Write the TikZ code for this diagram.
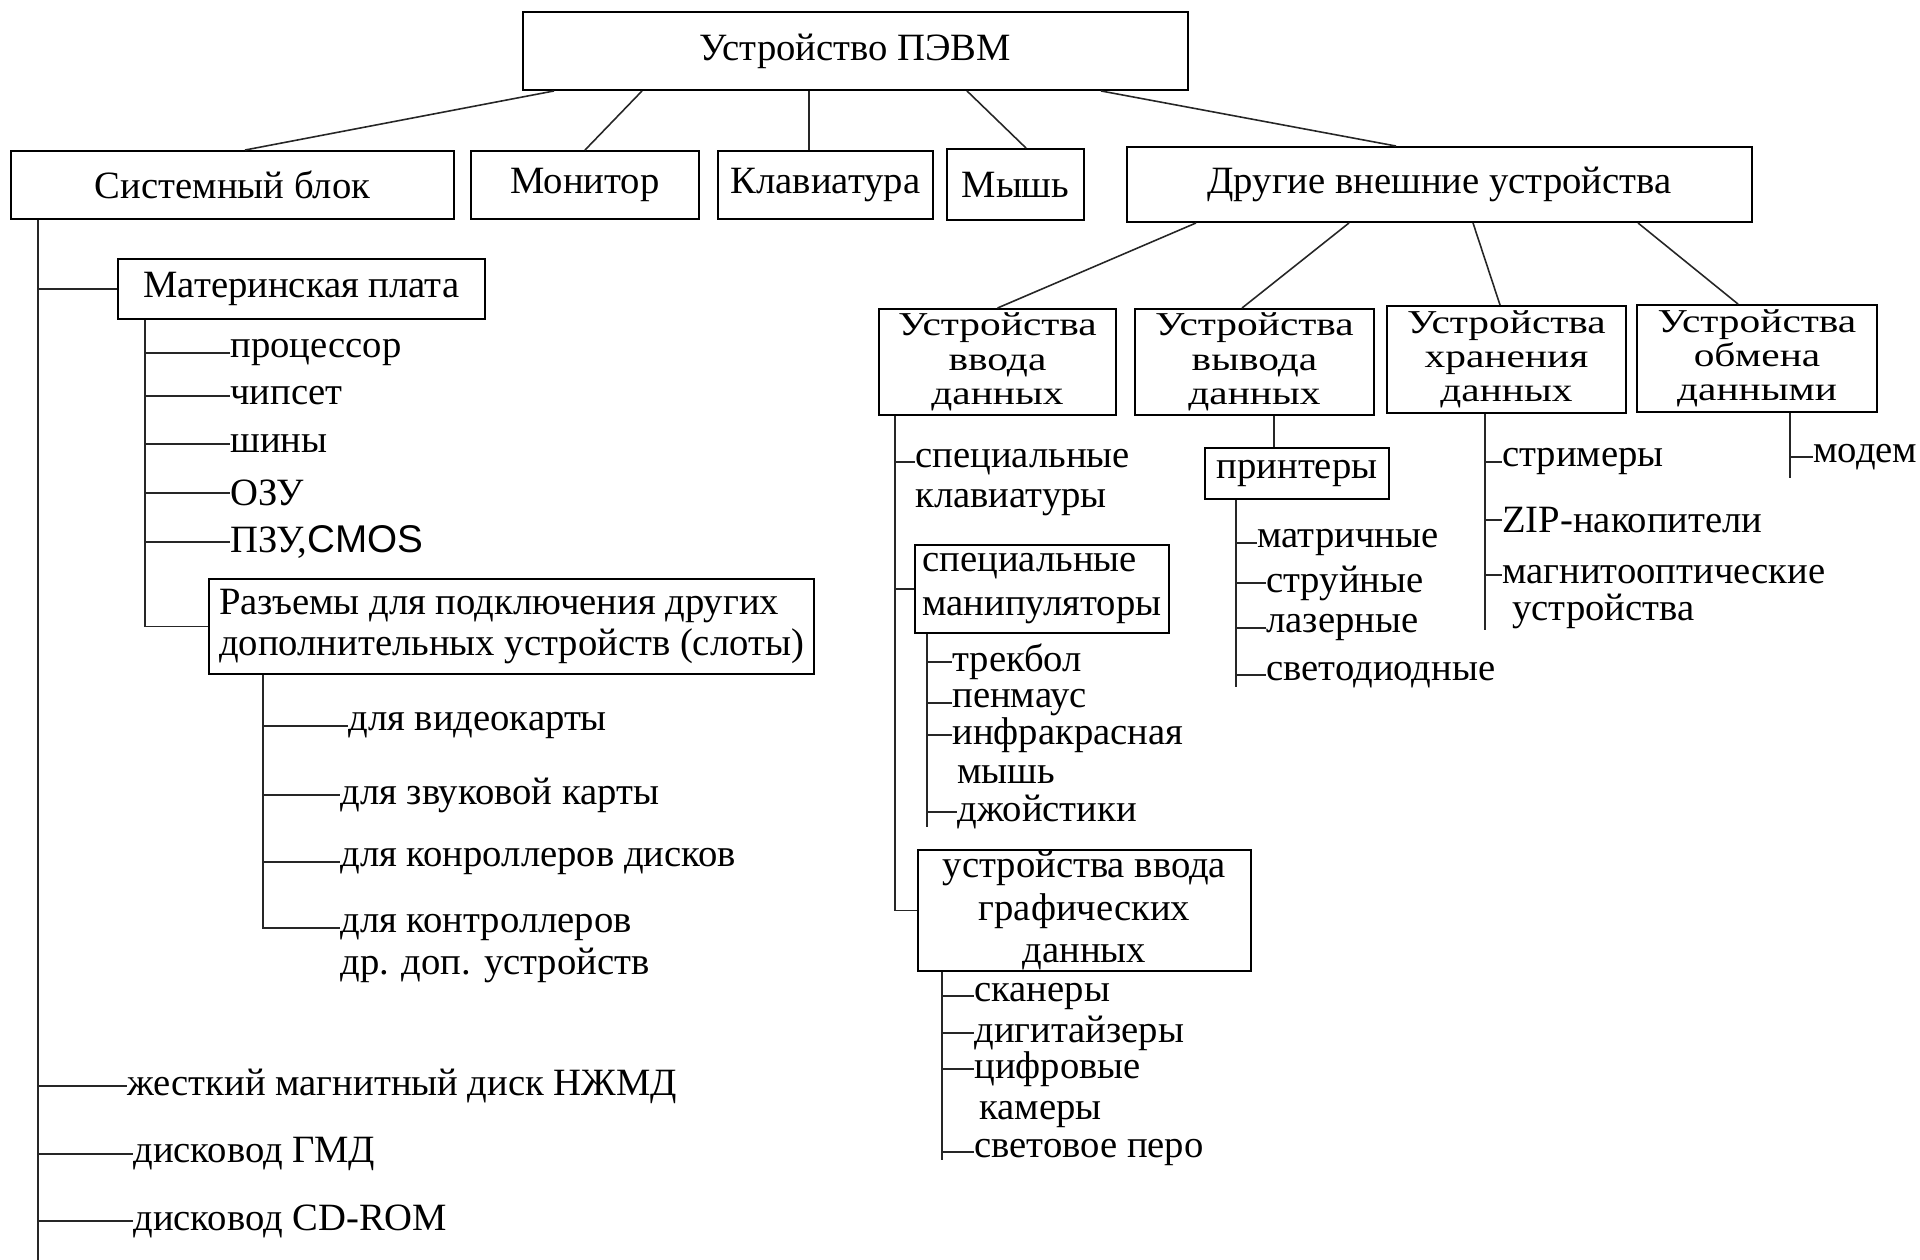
\documentclass[tikz,border=0pt]{standalone}
\usepackage{fontspec}
\setmainfont{Liberation Serif}
\newfontfamily\sansCMOS{Liberation Sans}
\newfontfamily\widefont[FakeStretch=1.24]{Liberation Serif}
\tikzset{
  blk/.style={draw, line width=1.1pt, inner sep=0pt, align=center, font=\fontsize{22}{18}\selectfont},
  grp/.style={blk, font=\fontsize{19}{19.5}\widefont},
  sz/.style 2 args={minimum width=#1*0.02cm, minimum height=#2*0.02cm},
  itm/.style={anchor=west, inner sep=0pt, font=\fontsize{22}{26}\selectfont},
  lnk/.style={line width=0.9pt, black!85},
}
\begin{document}
\begin{tikzpicture}[x=0.02cm, y=-0.02cm]
  \useasboundingbox (0,0) rectangle (1920,1260);
  % top row
  \node[blk, sz={665}{78}] (pc) at (855.5,51) {Устройство ПЭВМ};
  \node[blk, sz={443}{68}] (sys) at (232.5,185) {Системный блок};
  \node[blk, sz={228}{68}] (mon) at (585,185) {Монитор};
  \node[blk, sz={215}{68}] (kbd) at (825.5,185) {Клавиатура};
  \node[blk, sz={137}{71}] (mouse) at (1015.5,184.5) {Мышь};
  \node[blk, sz={625}{75}] (ext) at (1439.5,184.5) {Другие внешние устройства};
  \draw[lnk] (pc.south -| 554,0) -- (sys.north -| 245,0);
  \draw[lnk] (pc.south -| 642,0) -- (mon.north);
  \draw[lnk] (pc.south -| 809,0) -- (kbd.north -| 809,0);
  \draw[lnk] (pc.south -| 967,0) -- (mouse.north -| 1026,0);
  \draw[lnk] (pc.south -| 1101,0) -- (ext.north -| 1396,0);
  % system unit
  \coordinate (sysx) at (38,1260);
  \node[blk, sz={367}{60}] (mb) at (301.5,289) {Материнская плата};
  \node[blk, sz={605}{95}, align=left, font=\fontsize{22}{23.5}\selectfont] (slots) at (511.5,626.5)
    {Разъемы для подключения других\\дополнительных устройств (слоты)};
  \node[itm] (hdd) at (127,1086) {жесткий магнитный диск НЖМД};
  \node[itm] (fdd) at (133,1154) {дисковод ГМД};
  \node[itm] (cdr) at (133,1221) {дисковод CD-ROM};
  \draw[lnk] (sys.south -| sysx) -- (sysx);
  \draw[lnk] (mb.west -| sysx) -- (mb.west);
  \draw[lnk] (hdd.west -| sysx) -- (hdd.west);
  \draw[lnk] (fdd.west -| sysx) -- (fdd.west);
  \draw[lnk] (cdr.west -| sysx) -- (cdr.west);
  % motherboard
  \coordinate (mbx) at (145,0);
  \node[itm] (cpu) at (230,353) {процессор};
  \node[itm] (chip) at (230,396) {чипсет};
  \node[itm] (bus) at (230,444) {шины};
  \node[itm] (ram) at (230,493) {ОЗУ};
  \node[itm] (rom) at (230,542) {ПЗУ,{\sansCMOS CMOS}};
  \draw[lnk] (mb.south -| mbx) -- (slots.west -| mbx) -- (slots.west);
  \draw[lnk] (cpu.west -| mbx) -- (cpu.west);
  \draw[lnk] (chip.west -| mbx) -- (chip.west);
  \draw[lnk] (bus.west -| mbx) -- (bus.west);
  \draw[lnk] (ram.west -| mbx) -- (ram.west);
  \draw[lnk] (rom.west -| mbx) -- (rom.west);
  % slots
  \coordinate (slx) at (263,0);
  \node[itm] (vid) at (348,726) {для видеокарты};
  \node[itm] (snd) at (340,795) {для звуковой карты};
  \node[itm] (dsk) at (340,862) {для конроллеров дисков};
  \node[itm] (ctl) at (340,928) {для контроллеров};
  \node[itm] (ctlb) at (340,965) {др. доп. устройств};
  \draw[lnk] (slots.south -| slx) -- (ctl.west -| slx) -- (ctl.west);
  \draw[lnk] (vid.west -| slx) -- (vid.west);
  \draw[lnk] (snd.west -| slx) -- (snd.west);
  \draw[lnk] (dsk.west -| slx) -- (dsk.west);
  % other devices
  \node[grp, sz={237}{106}] (inp) at (997.5,362) {Устройства\\ввода\\данных};
  \node[grp, sz={239}{106}] (outp) at (1254.5,362) {Устройства\\вывода\\данных};
  \node[grp, sz={239}{107}] (stor) at (1506.5,359.5) {Устройства\\хранения\\данных};
  \node[grp, sz={240}{107}] (xchg) at (1757,358.5) {Устройства\\обмена\\данными};
  \draw[lnk] (ext.south -| 1196,0) -- (inp.north);
  \draw[lnk] (ext.south -| 1349,0) -- (outp.north -| 1242,0);
  \draw[lnk] (ext.south -| 1473,0) -- (stor.north -| 1500,0);
  \draw[lnk] (ext.south -| 1638,0) -- (xchg.north -| 1738,0);
  % input devices
  \coordinate (inx) at (895,0);
  \node[itm] (skb) at (915,462) {специальные};
  \node[itm] (skbb) at (915,503) {клавиатуры};
  \node[blk, sz={254}{88}, align=left, font=\fontsize{22}{25}\selectfont] (manip) at (1042,589)
    {специальные\\манипуляторы};
  \node[blk, sz={333}{121}, font=\fontsize{22}{24}\selectfont] (graph) at (1084.5,910.5)
    {устройства ввода\\графических\\данных};
  \draw[lnk] (inp.south -| inx) -- (graph.west -| inx) -- (graph.west);
  \draw[lnk] (skb.west -| inx) -- (skb.west);
  \draw[lnk] (manip.west -| inx) -- (manip.west);
  % manipulators
  \coordinate (manx) at (927,827);
  \node[itm] (trk) at (952,662) {трекбол};
  \node[itm] (pen) at (952,703) {пенмаус};
  \node[itm] (irm) at (952,735) {инфракрасная};
  \node[itm] (irmb) at (957,775) {мышь};
  \node[itm] (joy) at (957,812) {джойстики};
  \draw[lnk] (manip.south -| manx) -- (manx);
  \draw[lnk] (trk.west -| manx) -- (trk.west);
  \draw[lnk] (pen.west -| manx) -- (pen.west);
  \draw[lnk] (irm.west -| manx) -- (irm.west);
  \draw[lnk] (joy.west -| manx) -- (joy.west);
  % graphic input
  \coordinate (grx) at (942,1160);
  \node[itm] (scn) at (974,996) {сканеры};
  \node[itm] (dig) at (974,1033) {дигитайзеры};
  \node[itm] (cam) at (974,1069) {цифровые};
  \node[itm] (camb) at (979,1114) {камеры};
  \node[itm] (lpn) at (974,1152) {световое перо};
  \draw[lnk] (graph.south -| grx) -- (grx);
  \draw[lnk] (scn.west -| grx) -- (scn.west);
  \draw[lnk] (dig.west -| grx) -- (dig.west);
  \draw[lnk] (cam.west -| grx) -- (cam.west);
  \draw[lnk] (lpn.west -| grx) -- (lpn.west);
  % output devices
  \coordinate (outx) at (1274,0);
  \node[blk, sz={184}{51}] (prn) at (1297,473.5) {принтеры};
  \draw[lnk] (outp.south -| outx) -- (prn.north -| outx);
  \coordinate (prx) at (1236,687);
  \node[itm] (mat) at (1257,543) {матричные};
  \node[itm] (jet) at (1266,583) {струйные};
  \node[itm] (las) at (1266,628) {лазерные};
  \node[itm] (led) at (1266,675) {светодиодные};
  \draw[lnk] (prn.south -| prx) -- (prx);
  \draw[lnk] (mat.west -| prx) -- (mat.west);
  \draw[lnk] (jet.west -| prx) -- (jet.west);
  \draw[lnk] (las.west -| prx) -- (las.west);
  \draw[lnk] (led.west -| prx) -- (led.west);
  % storage
  \coordinate (stx) at (1485,630);
  \node[itm] (strm) at (1502,462) {стримеры};
  \node[itm] (zip) at (1502,520) {ZIP-накопители};
  \node[itm] (mo) at (1502,575) {магнитооптические};
  \node[itm] (mob) at (1512,611) {устройства};
  \draw[lnk] (stor.south -| stx) -- (stx);
  \draw[lnk] (strm.west -| stx) -- (strm.west);
  \draw[lnk] (zip.west -| stx) -- (zip.west);
  \draw[lnk] (mo.west -| stx) -- (mo.west);
  % exchange
  \coordinate (xcx) at (1790,478);
  \node[itm] (mdm) at (1813,457) {модем};
  \draw[lnk] (xchg.south -| xcx) -- (xcx);
  \draw[lnk] (mdm.west -| xcx) -- (mdm.west);
\end{tikzpicture}
\end{document}
